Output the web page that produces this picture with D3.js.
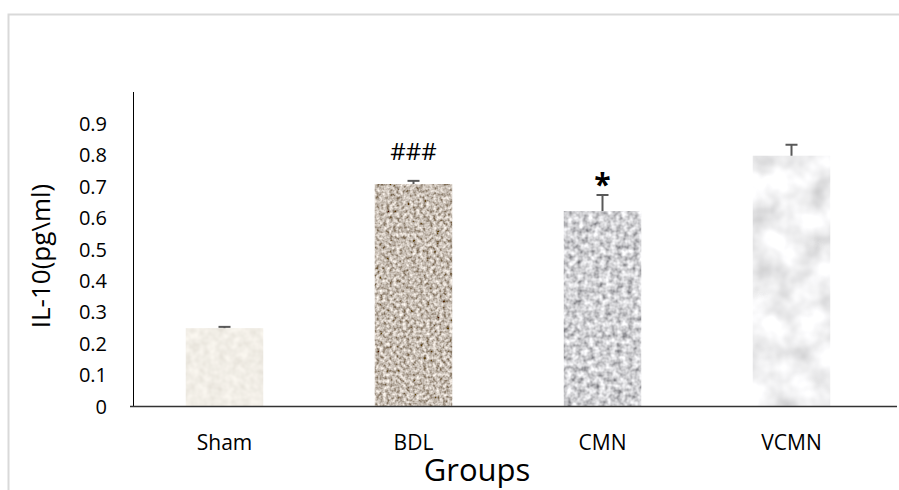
<!DOCTYPE html>
<html>
<head>
<meta charset="utf-8">
<script src="https://cdn.jsdelivr.net/npm/d3@7"></script>
<style>
  body { margin: 0; background: #fff; }
  text { font-family: "Open Sans", "Noto Sans", sans-serif; fill: #000; }
</style>
</head>
<body>
<div id="chart"></div>
<script>
var groups = ["Sham", "BDL", "CMN", "VCMN"];
var means = [0.248, 0.707, 0.621, 0.797];
var errors = [0.004, 0.010, 0.051, 0.035];
var marks = ["", "###", "*", ""];
var yTicks = [0, 0.1, 0.2, 0.3, 0.4, 0.5, 0.6, 0.7, 0.8, 0.9];

// stone-like textures for each bar: base colour, contrast, noise frequency
var textures = [
    { base: [0.88, 0.85, 0.79], k: 0.25, freq: 0.12, oct: 2 },
    { base: [0.57, 0.51, 0.45], k: 1.35, freq: 0.3, oct: 2 },
    { base: [0.64, 0.64, 0.66], k: 1.25, freq: 0.18, oct: 2 },
    { base: [0.88, 0.88, 0.89], k: 0.65, freq: 0.035, oct: 3 }
];

var width = 899, height = 490;

var svg = d3.select("#chart")
    .append("svg")
        .attr("width", width)
        .attr("height", height);

var defs = svg.append("defs");
textures.forEach(function(t, i) {
    var f = defs.append("filter")
        .attr("id", "tex" + i)
        .attr("x", 0).attr("y", 0)
        .attr("width", 1).attr("height", 1);
    f.append("feTurbulence")
        .attr("type", "fractalNoise")
        .attr("baseFrequency", t.freq)
        .attr("numOctaves", t.oct)
        .attr("seed", i * 7 + 3)
        .attr("result", "noise");
    var row = function(c) { return t.k + " 0 0 0 " + (c - t.k * 0.5); };
    f.append("feColorMatrix")
        .attr("in", "noise")
        .attr("type", "matrix")
        .attr("values", row(t.base[0]) + " " + row(t.base[1]) + " " + row(t.base[2]) + " 0 0 0 0 1")
        .attr("result", "col");
    f.append("feComposite")
        .attr("in", "col")
        .attr("in2", "SourceGraphic")
        .attr("operator", "in");
});

// outer frame (only top and left edges visible)
svg.append("path")
    .attr("d", "M8.5," + height + "V14.5H" + width)
    .attr("fill", "none")
    .attr("stroke", "#d9d9d9")
    .attr("stroke-width", 2);

var x = d3.scaleBand()
    .domain(groups)
    .range([130, 886])
    .paddingInner(0.59)
    .paddingOuter(0.295);

var y = d3.scaleLinear()
    .domain([0, 1])
    .range([406, 92]);

// y axis
var yaxis = svg.append("g")
    .attr("transform", "translate(133,0)")
    .call(d3.axisLeft(y).tickValues(yTicks).tickSize(0).tickPadding(26)
        .tickFormat(function(d) { return d === 0 ? "0" : d3.format(".1f")(d); }));
yaxis.select(".domain").remove();
yaxis.selectAll("text")
    .style("font-size", "20px")
    .attr("dy", "0.35em");

svg.append("line")
    .attr("x1", 133.5).attr("x2", 133.5)
    .attr("y1", y(1)).attr("y2", y(0))
    .attr("stroke", "#000")
    .attr("stroke-width", 1);

// bars
svg.selectAll(".bar")
    .data(groups)
    .enter().append("rect")
        .attr("class", "bar")
        .attr("x", function(d) { return x(d); })
        .attr("y", function(d, i) { return y(means[i]); })
        .attr("width", x.bandwidth())
        .attr("height", function(d, i) { return y(0) - y(means[i]); })
        .attr("fill", "#000")
        .attr("filter", function(d, i) { return "url(#tex" + i + ")"; });

// error bars (upper half only)
var eb = svg.selectAll(".err")
    .data(groups)
    .enter().append("g")
        .attr("class", "err")
        .attr("stroke", "#595959")
        .attr("stroke-width", 2);
eb.append("line")
    .attr("x1", function(d) { return x(d) + x.bandwidth() / 2; })
    .attr("x2", function(d) { return x(d) + x.bandwidth() / 2; })
    .attr("y1", function(d, i) { return y(means[i]); })
    .attr("y2", function(d, i) { return y(means[i] + errors[i]); });
eb.append("line")
    .attr("x1", function(d) { return x(d) + x.bandwidth() / 2 - 6; })
    .attr("x2", function(d) { return x(d) + x.bandwidth() / 2 + 6; })
    .attr("y1", function(d, i) { return y(means[i] + errors[i]); })
    .attr("y2", function(d, i) { return y(means[i] + errors[i]); });

// significance marks
svg.selectAll(".mark")
    .data(groups)
    .enter().append("text")
        .attr("class", "mark")
        .attr("x", function(d) { return x(d) + x.bandwidth() / 2; })
        .attr("y", function(d, i) { return y(means[i] + errors[i]) - (marks[i] === "*" ? 0 : 21); })
        .attr("text-anchor", "middle")
        .style("font-size", function(d, i) { return marks[i] === "*" ? "30px" : "24px"; })
        .style("font-weight", function(d, i) { return marks[i] === "*" ? "bold" : "normal"; })
        .text(function(d, i) { return marks[i]; });

// x baseline
svg.append("line")
    .attr("x1", 130).attr("x2", 897)
    .attr("y1", y(0) + 0.5).attr("y2", y(0) + 0.5)
    .attr("stroke", "#333")
    .attr("stroke-width", 1.6);

// category labels
svg.selectAll(".cat")
    .data(groups)
    .enter().append("text")
        .attr("class", "cat")
        .attr("x", function(d) { return x(d) + x.bandwidth() / 2; })
        .attr("y", 450)
        .attr("text-anchor", "middle")
        .style("font-size", "21px")
        .text(function(d) { return d; });

// axis titles
svg.append("text")
    .attr("x", 477)
    .attr("y", 481)
    .attr("text-anchor", "middle")
    .style("font-size", "31px")
    .text("Groups");

svg.append("text")
    .attr("transform", "translate(50,256) rotate(-90)")
    .attr("text-anchor", "middle")
    .style("font-size", "26px")
    .text("IL-10(pg\\ml)");
</script>
</body>
</html>
